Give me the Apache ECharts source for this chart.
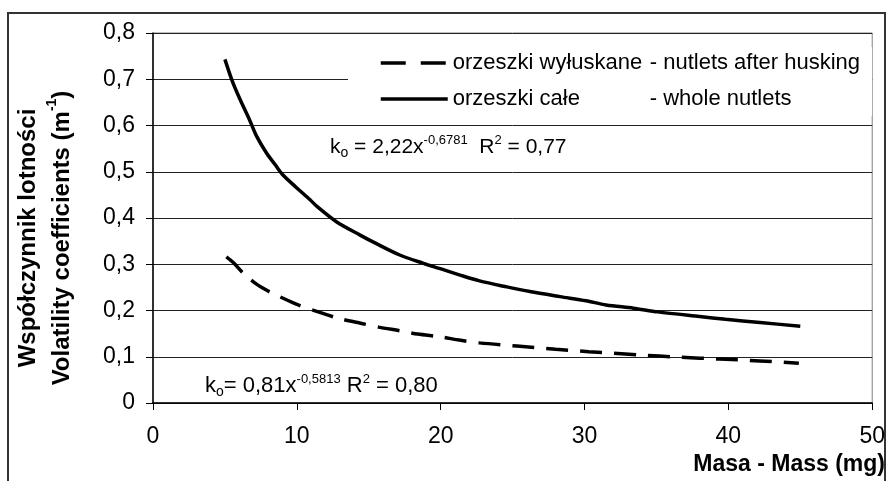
<!DOCTYPE html>
<html>
<head>
<meta charset="utf-8">
<script src="https://cdn.jsdelivr.net/npm/echarts@6/dist/echarts.min.js"></script>
<style>
  html, body { margin: 0; padding: 0; background: #fff; }
  #chart { width: 888px; height: 481px; }
</style>
</head>
<body>
<div id="chart"></div>
<script>
// orzeszki całe - whole nutlets
const massWhole = [5.0, 5.5, 6.0, 6.7, 7.2, 7.9, 8.5, 9.0, 10.0, 10.9, 11.4, 12.75, 14.4, 15.5, 17.15, 18.8, 19.9, 21.3, 22.7, 24.6, 26.2, 28.3, 30.1, 31.5, 33.4, 35.1, 38.0, 39.8, 42.2, 45.0];
const coefWhole = [0.743, 0.697, 0.660, 0.613, 0.577, 0.540, 0.515, 0.494, 0.465, 0.440, 0.425, 0.392, 0.363, 0.345, 0.320, 0.302, 0.291, 0.277, 0.264, 0.251, 0.241, 0.230, 0.221, 0.212, 0.205, 0.197, 0.187, 0.181, 0.174, 0.166];
// orzeszki wyłuskane - nutlets after husking
const massHusked = [5.1, 5.6, 6.3, 7.2, 8.0, 8.8, 10.1, 11.7, 12.9, 14.5, 15.7, 17.2, 18.4, 20.0, 21.3, 22.7, 25.3, 28.0, 30.3, 33.8, 36.6, 39.4, 42.2, 44.9];
const coefHusked = [0.316, 0.303, 0.280, 0.257, 0.242, 0.230, 0.212, 0.195, 0.183, 0.172, 0.164, 0.156, 0.149, 0.143, 0.136, 0.130, 0.123, 0.116, 0.111, 0.104, 0.099, 0.095, 0.091, 0.086];

const nameHusked = "orzeszki wyłuskane";
const nameWhole = "orzeszki całe";
const legendTail = { [nameHusked]: "- nutlets after husking", [nameWhole]: "- whole nutlets" };

const font = "Liberation Sans, Arial, sans-serif";

const chart = echarts.init(document.getElementById("chart"));
chart.setOption({
  animation: false,
  textStyle: { fontFamily: font, color: "#000" },
  grid: {
    left: 153, right: 15, top: 33, bottom: 78,
    show: true, borderColor: "#808080", borderWidth: 1
  },
  legend: {
    orient: "vertical",
    left: 348, top: 47,
    padding: [5, 12, 6, 31],
    backgroundColor: "#fff",
    itemWidth: 67, itemHeight: 20, itemGap: 14,
    data: [
      { name: nameHusked, itemStyle: { opacity: 0 }, lineStyle: { width: 3.5, type: [25, 15] } },
      { name: nameWhole, itemStyle: { opacity: 0 }, lineStyle: { width: 3.5 } }
    ],
    formatter: function (name) {
      return "{a|" + name + "}{b|" + legendTail[name] + "}";
    },
    textStyle: {
      fontSize: 22, color: "#000", lineHeight: 20,
      rich: { a: { width: 197, fontSize: 22, lineHeight: 20 }, b: { fontSize: 22, lineHeight: 20 } }
    }
  },
  xAxis: {
    type: "value", min: 0, max: 50, interval: 10,
    axisLine: { lineStyle: { color: "#000", width: 1.5 } },
    axisTick: { show: true, length: 7, lineStyle: { color: "#000" } },
    axisLabel: { fontSize: 23, color: "#000", margin: 22 },
    splitLine: { show: false }
  },
  yAxis: {
    type: "value", min: 0, max: 0.8, interval: 0.1,
    axisLine: { show: true, lineStyle: { color: "#000", width: 1.5 } },
    axisTick: { show: true, length: 7, lineStyle: { color: "#000" } },
    axisLabel: {
      fontSize: 23, color: "#000", margin: 18,
      formatter: v => v === 0 ? "0" : v.toFixed(1).replace(".", ",")
    },
    splitLine: { lineStyle: { color: "#222", width: 1 } }
  },
  series: [
    {
      name: nameHusked, type: "line", symbol: "none", smooth: 0.3,
      lineStyle: { color: "#000", width: 3.5, type: [22, 12] },
      itemStyle: { color: "#000" },
      data: massHusked.map((m, i) => [m, coefHusked[i]])
    },
    {
      name: nameWhole, type: "line", symbol: "none", smooth: 0.3,
      lineStyle: { color: "#000", width: 3.5 },
      itemStyle: { color: "#000" },
      data: massWhole.map((m, i) => [m, coefWhole[i]])
    }
  ],
  graphic: [
    {
      type: "rect", silent: true, z: -1,
      shape: { x: 8, y: 13, width: 877, height: 480 },
      style: { fill: null, stroke: "#333", lineWidth: 2 }
    },
    {
      type: "text", x: 45, y: 238, rotation: Math.PI / 2,
      style: {
        text: "{t|Współczynnik lotności}\n{t|Volatility coefficients (m}{s|-1}{t|)}",
        align: "center", verticalAlign: "middle",
        rich: {
          t: { fontFamily: font, fontSize: 24, fontWeight: "bold", lineHeight: 34, fill: "#000" },
          s: { fontFamily: font, fontSize: 14, fontWeight: "bold", lineHeight: 34, verticalAlign: "top", fill: "#000" }
        }
      }
    },
    {
      type: "text", right: 3, top: 453,
      style: {
        text: "Masa - Mass (mg)", fontFamily: font, fontSize: 23, fontWeight: "bold", fill: "#000"
      }
    },
    {
      type: "text", left: 330, top: 134,
      style: {
        text: "{n|k}{o|o}{n| = 2,22x}{p|-0,6781}{n|  R}{p|2}{n| = 0,77}",
        rich: {
          n: { fontFamily: font, fontSize: 21, lineHeight: 26, fill: "#000" },
          o: { fontFamily: font, fontSize: 14, lineHeight: 26, verticalAlign: "bottom", fill: "#000" },
          p: { fontFamily: font, fontSize: 13, lineHeight: 26, verticalAlign: "top", fill: "#000" }
        }
      }
    },
    {
      type: "text", left: 205, top: 373,
      style: {
        text: "{n|k}{o|o}{n|= 0,81x}{p|-0,5813}{n| R}{p|2}{n| = 0,80}",
        rich: {
          n: { fontFamily: font, fontSize: 22, lineHeight: 26, fill: "#000" },
          o: { fontFamily: font, fontSize: 14, lineHeight: 26, verticalAlign: "bottom", fill: "#000" },
          p: { fontFamily: font, fontSize: 13, lineHeight: 26, verticalAlign: "top", fill: "#000" }
        }
      }
    }
  ]
});
</script>
</body>
</html>
